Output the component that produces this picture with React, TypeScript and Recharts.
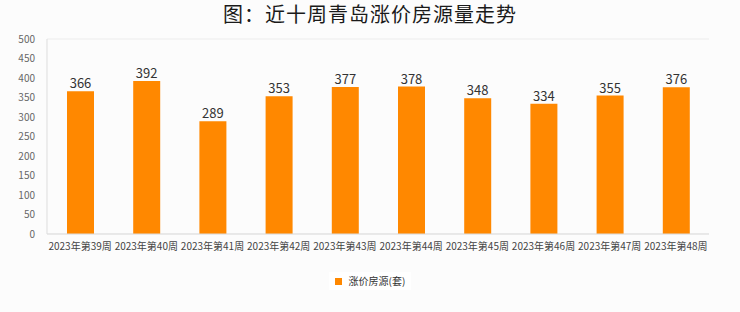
import React from 'react';
import { BarChart, Bar, XAxis, YAxis, CartesianGrid, LabelList } from 'recharts';

const weeks = ['2023年第39周', '2023年第40周', '2023年第41周', '2023年第42周', '2023年第43周', '2023年第44周', '2023年第45周', '2023年第46周', '2023年第47周', '2023年第48周'];
const values = [366, 392, 289, 353, 377, 378, 348, 334, 355, 376];
const yTicks = [0, 50, 100, 150, 200, 250, 300, 350, 400, 450, 500];
const seriesName = '涨价房源(套)';
const title = '图：近十周青岛涨价房源量走势';

const data = weeks.map((w, i) => ({ week: w, value: values[i] }));

const font = '"Noto Sans CJK SC", "Noto Sans", sans-serif';

export default function App() {
  return (
    <div style={{ position: 'absolute', left: 0, top: 0, width: 740, height: 312, background: '#fcfcfc', fontFamily: font }}>
      <div style={{ position: 'absolute', left: 0, top: 0, width: 740, textAlign: 'center', fontSize: 20, fontWeight: 400, color: '#1a1a1a', lineHeight: '28px', letterSpacing: 1 }}>
        {title}
      </div>
      <BarChart width={740} height={312} data={data} margin={{ top: 39, right: 31, left: 0, bottom: 58 }}>
        <CartesianGrid vertical={false} stroke="#ececec" />
        <XAxis dataKey="week" xAxisId="bottom" tickLine={false} axisLine={{ stroke: '#dddddd' }} height={20} interval={0} tick={{ fontSize: 10, fill: '#444' }} tickMargin={3} />
        <XAxis dataKey="week" xAxisId="top" orientation="top" tick={false} tickLine={false} axisLine={{ stroke: '#e2e2e2' }} height={0} />
        <YAxis yAxisId="left" domain={[0, 500]} ticks={yTicks} tickLine={false} axisLine={{ stroke: '#dddddd' }} width={47} tick={{ fontSize: 10, fill: '#666' }} tickMargin={6} />
        <YAxis yAxisId="right" orientation="right" domain={[0, 500]} tick={false} tickLine={false} axisLine={{ stroke: '#e2e2e2' }} width={0} />
        <Bar dataKey="value" name={seriesName} xAxisId="bottom" yAxisId="left" fill="#ff8800" barSize={27} isAnimationActive={false}>
          <LabelList dataKey="value" position="top" offset={3} style={{ fontSize: 13, fill: '#333' }} />
        </Bar>
      </BarChart>
      <div style={{ position: 'absolute', left: 0, top: 272, width: 740, display: 'flex', justifyContent: 'center' }}>
        <div style={{ display: 'flex', alignItems: 'center', background: '#ffffff', padding: '2px 6px', fontSize: 10, color: '#333', lineHeight: '14px' }}>
          <span style={{ display: 'inline-block', width: 7, height: 7, background: '#ff8800', marginRight: 7 }} />
          <span>{seriesName}</span>
        </div>
      </div>
    </div>
  );
}
